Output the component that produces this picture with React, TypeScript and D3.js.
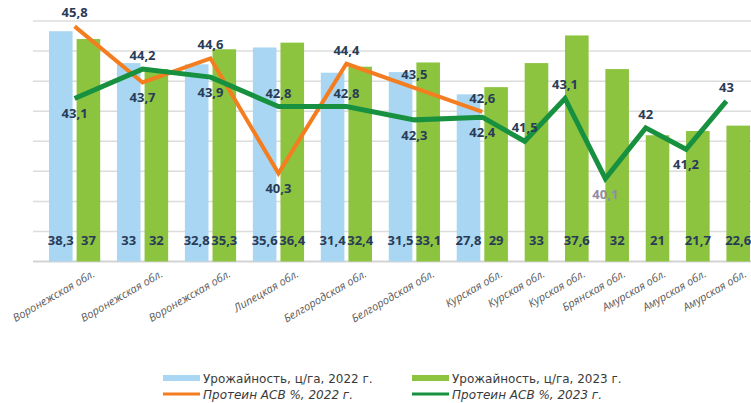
import React from "react";
import * as d3 from "d3";

// data
const categories = [
  "Воронежская обл.", "Воронежская обл.", "Воронежская обл.", "Липецкая обл.",
  "Белгородская обл.", "Белгородская обл.", "Курская обл.", "Курская обл.",
  "Курская обл.", "Брянская обл.", "Амурская обл.", "Амурская обл.", "Амурская обл.",
];
const yield2022: (number | null)[] = [38.3, 33, 32.8, 35.6, 31.4, 31.5, 27.8, null, null, null, null, null, null];
const yield2023 = [37, 32, 35.3, 36.4, 32.4, 33.1, 29, 33, 37.6, 32, 21, 21.7, 22.6];
const protein2022: (number | null)[] = [45.8, 43.7, 44.6, 40.3, 44.4, 43.5, 42.6, null, null, null, null, null, null];
const protein2023 = [43.1, 44.2, 43.9, 42.8, 42.8, 42.3, 42.4, 41.5, 43.1, 40.1, 42, 41.2, 43];
// which side of the point the value label sits on
const side2022 = ["top", "bottom", "top", "bottom", "top", "top", "top"];
const side2023 = ["bottom", "top", "bottom", "top", "top", "bottom", "bottom", "top", "top", "bottom", "top", "bottom", "top"];
const legendItems = [
  { name: "Урожайность, ц/га, 2022 г.", kind: "bar", color: "#a9d7f3" },
  { name: "Урожайность, ц/га, 2023 г.", kind: "bar", color: "#8cc43f" },
  { name: "Протеин АСВ %, 2022 г.", kind: "line", color: "#f47d20" },
  { name: "Протеин АСВ %, 2023 г.", kind: "line", color: "#17913f" },
];

const W = 751, H = 403;
const FONT = "'Open Sans', sans-serif";
const BLUE = "#a9d7f3", GREEN = "#8cc43f", ORANGE = "#f47d20", DKGREEN = "#17913f";
const LABEL = "#2a3b57";

const fmt = (v: number) => String(v).replace(".", ",");

export default function App() {
  const top = 21, bottom = 261.5, left = 33;

  // bar slots: each bar is one unit, gaps are fractions of it
  const INNER = 0.17, OUTER = 0.71;
  const starts: number[] = [];
  let acc = 0;
  categories.forEach((_, i) => {
    starts.push(acc);
    acc += (yield2022[i] != null ? 2 + INNER : 1) + (i < categories.length - 1 ? OUTER : 0);
  });
  const x = d3.scaleLinear().domain([0, acc]).range([49, 750]);
  const bw = x(1) - x(0);

  const y = d3.scaleLinear().domain([0, 40]).range([bottom, top]);
  const y2 = d3.scaleLinear().domain([37, 46]).range([bottom, top]);

  const blueX = (i: number) => x(starts[i]);
  const greenX = (i: number) => x(starts[i] + (yield2022[i] != null ? 1 + INNER : 0));
  const pointX = (i: number) => x(starts[i] + (yield2022[i] != null ? 1 + INNER / 2 : 0));

  const line = d3.line<[number, number]>().x(d => d[0]).y(d => d[1]);
  const pts22 = protein2022.map((v, i) => (v == null ? null : [pointX(i), y2(v)] as [number, number])).filter(Boolean) as [number, number][];
  const pts23 = protein2023.map((v, i) => [pointX(i), y2(v)] as [number, number]);

  const pointLabel = (v: number, i: number, s: string, key: string, color = LABEL) => (
    <text key={key} x={pointX(i)} y={y2(v) + (s === "top" ? -9 : 20)} textAnchor="middle"
      fontSize={13} fontWeight={700} fill={color} fontFamily={FONT}>{fmt(v)}</text>
  );

  return (
    <div style={{ position: "fixed", left: 0, top: 0 }}>
      <svg width={W} height={H} style={{ display: "block", background: "#fff" }}>
        {y.ticks(8).map(t => (
          <line key={t} x1={left} x2={W} y1={y(t)} y2={y(t)} stroke={t === 0 ? "#d3d3d3" : "#dcdcdc"} strokeWidth={t === 0 ? 2 : 1.5} />
        ))}
        {yield2022.map((v, i) => v == null ? null : (
          <rect key={"b" + i} x={blueX(i)} y={y(v)} width={bw} height={y(0) - y(v)} fill={BLUE} />
        ))}
        {yield2023.map((v, i) => (
          <rect key={"g" + i} x={greenX(i)} y={y(v)} width={bw} height={y(0) - y(v)} fill={GREEN} />
        ))}
        {yield2022.map((v, i) => v == null ? null : (
          <text key={"bl" + i} x={blueX(i) + bw / 2} y={245} textAnchor="middle" fontSize={13} fontWeight={700} fill={LABEL} fontFamily={FONT}>{fmt(v)}</text>
        ))}
        {yield2023.map((v, i) => (
          <text key={"gl" + i} x={greenX(i) + bw / 2} y={245} textAnchor="middle" fontSize={13} fontWeight={700} fill={LABEL} fontFamily={FONT}>{fmt(v)}</text>
        ))}
        <path d={line(pts22) || ""} fill="none" stroke={ORANGE} strokeWidth={4} strokeLinejoin="miter" />
        <path d={line(pts23) || ""} fill="none" stroke={DKGREEN} strokeWidth={5} strokeLinejoin="miter" />
        {protein2022.map((v, i) => v == null ? null : pointLabel(v, i, side2022[i], "o" + i))}
        {protein2023.map((v, i) => pointLabel(v, i, side2023[i], "n" + i, v === 40.1 ? "#8e8ca6" : LABEL))}
        {categories.map((c, i) => (
          <text key={"c" + i} transform={`translate(${pointX(i) + 21},${276}) rotate(-30)`} textAnchor="end"
            fontSize={11} fontStyle="italic" fill="#5a5a5a" fontFamily={FONT}>{c}</text>
        ))}
        {legendItems.map((d, i) => {
          const lx = i % 2 === 0 ? 163 : 412;
          const ly = i < 2 ? 378 : 394;
          return (
            <g key={"lg" + i}>
              {d.kind === "bar"
                ? <rect x={lx} y={ly - 3} width={37} height={6} fill={d.color} />
                : <line x1={lx} x2={lx + 37} y1={ly} y2={ly} stroke={d.color} strokeWidth={3} />}
              <text x={lx + 40} y={ly + 4.5} fontSize={12} fill="#3a3a3a" fontFamily="'DejaVu Sans', sans-serif"
                fontStyle={d.kind === "line" ? "italic" : "normal"}>{d.name}</text>
            </g>
          );
        })}
      </svg>
    </div>
  );
}
